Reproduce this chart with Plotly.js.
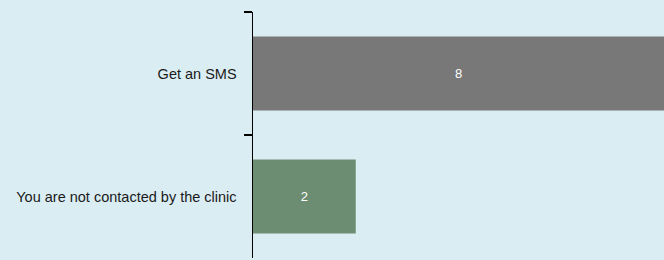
<!DOCTYPE html>
<html>
<head>
<meta charset="utf-8">
<script src="https://cdn.plot.ly/plotly-3.0.1.min.js"></script>
<style>html,body{margin:0;padding:0;background:#daedf3;}</style>
</head>
<body>
<div id="chart" style="width:664px;height:260px;"></div>
<script>
const categories = ["Get an SMS", "You are not contacted by the clinic"];
const values = [8, 2];
const barColors = ["#787878", "#6d8d72"];

const trace = {
  type: "bar",
  orientation: "h",
  y: categories,
  x: values,
  width: 0.6,
  marker: {color: barColors},
  text: values.map(String),
  textposition: "inside",
  insidetextanchor: "middle",
  textfont: {color: "#ffffff", size: 13, family: "Liberation Sans, Arial, sans-serif"},
  hoverinfo: "none"
};

const layout = {
  width: 664,
  height: 260,
  margin: {l: 253, r: 0, t: 12, b: 2, pad: 0},
  paper_bgcolor: "#daedf3",
  plot_bgcolor: "#daedf3",
  showlegend: false,
  font: {family: "Liberation Sans, Arial, sans-serif", size: 14.5, color: "#1a1a1a"},
  xaxis: {
    range: [0, 8],
    visible: false,
    showgrid: false,
    zeroline: false,
    fixedrange: true
  },
  yaxis: {
    type: "category",
    autorange: "reversed",
    showline: true,
    linecolor: "#000000",
    linewidth: 1.5,
    ticks: "outside",
    tickson: "boundaries",
    ticklen: 8,
    tickwidth: 1.5,
    tickcolor: "#000000",
    ticklabelstandoff: 12,
    showgrid: false,
    zeroline: false,
    tickfont: {size: 14.5, color: "#1a1a1a"},
    fixedrange: true
  }
};

Plotly.newPlot("chart", [trace], layout, {displayModeBar: false, staticPlot: true});
</script>
</body>
</html>
